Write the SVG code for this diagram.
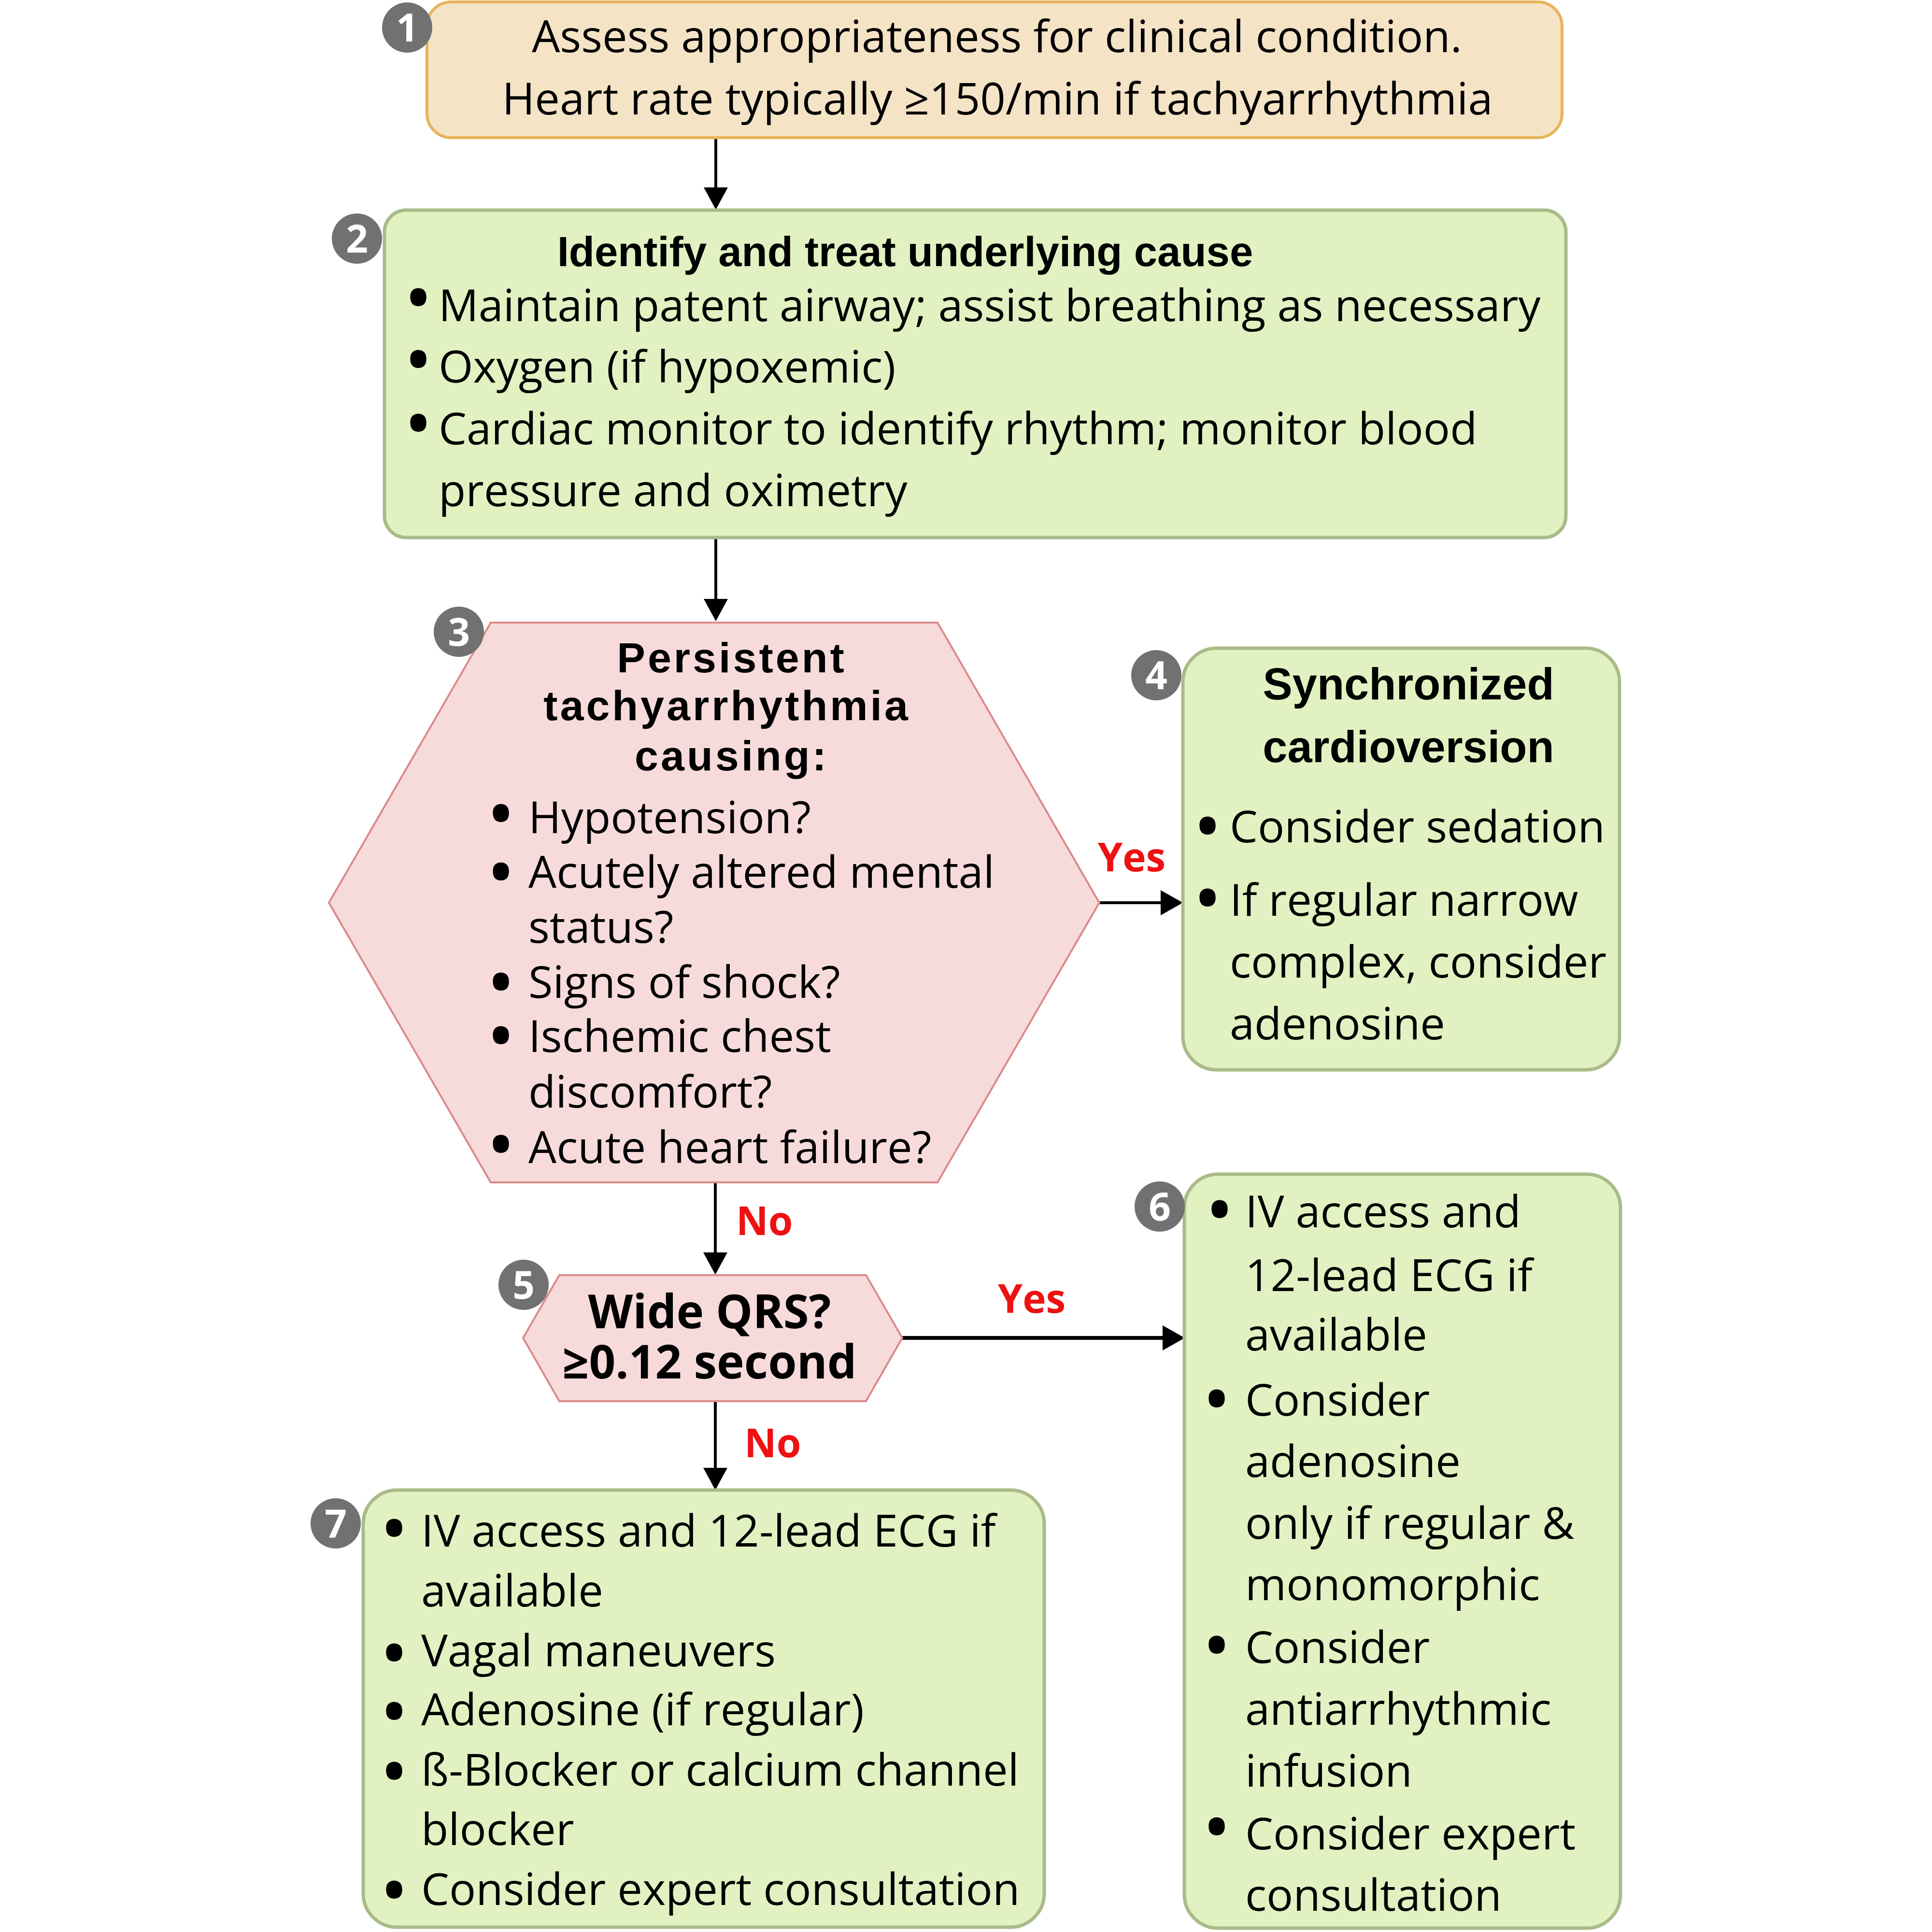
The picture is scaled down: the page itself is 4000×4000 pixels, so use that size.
<svg xmlns="http://www.w3.org/2000/svg" width="4000" height="4000" viewBox="0 0 4000 4000">
<defs>
<style>
.bg{fill:#ffffff}
.t{font-family:"Open Sans","DejaVu Sans",sans-serif;font-size:92px;fill:#000}
.bu{font-family:"Open Sans","DejaVu Sans",sans-serif;font-size:160px;fill:#000}
.tb{font-family:"Liberation Sans",Arial,sans-serif;font-weight:bold;fill:#000}
.ob{font-family:"Open Sans","DejaVu Sans",sans-serif;font-weight:bold;fill:#000}
.lab{font-family:"Open Sans","DejaVu Sans",sans-serif;font-weight:bold;font-size:82px;fill:#EE1111}
.badge{fill:#717171}
.bn{font-family:"Open Sans","DejaVu Sans",sans-serif;font-weight:bold;font-size:80px;fill:#fff;text-anchor:middle}
.beige{fill:#F5E3C6;stroke:#E6B45A;stroke-width:6}
.green{fill:#E2F1C1;stroke:#A9BB88;stroke-width:7}
.pink{fill:#F7DBDB;stroke:#DB8A8A;stroke-width:4}
.ln{stroke:#000;stroke-width:6;fill:none}
.hd{fill:#000}
</style>
</defs>
<rect class="bg" x="0" y="0" width="4000" height="4000"/>

<g id="connectors">
<line class="ln" x1="1482" y1="285" x2="1482" y2="395"/>
<polygon class="hd" points="1457,388 1507,388 1482,434"/>
<line class="ln" x1="1482" y1="1113" x2="1482" y2="1245"/>
<polygon class="hd" points="1457,1240 1507,1240 1482,1286"/>
<line class="ln" x1="2276" y1="1869" x2="2410" y2="1869"/>
<polygon class="hd" points="2403,1843 2403,1895 2449,1869"/>
<line class="ln" x1="1481" y1="2449" x2="1481" y2="2600"/>
<polygon class="hd" points="1456,2593 1506,2593 1481,2639"/>
<line class="ln" x1="1868" y1="2770" x2="2412" y2="2770" style="stroke-width:8"/>
<polygon class="hd" points="2407,2744 2407,2796 2453,2770"/>
<line class="ln" x1="1481" y1="2901" x2="1481" y2="3046"/>
<polygon class="hd" points="1456,3039 1506,3039 1481,3085"/>
<text class="lab" x="2273" y="1804">Yes</text>
<text class="lab" x="1524" y="2557">No</text>
<text class="lab" x="2066" y="2718">Yes</text>
<text class="lab" x="1541" y="3017">No</text>
</g>

<g id="node1">
<rect class="beige" x="884" y="4" width="2350" height="281" rx="50"/>
<text class="t" x="2064" y="108" text-anchor="middle">Assess appropriateness for clinical condition.</text>
<text class="t" x="2065" y="237" text-anchor="middle">Heart rate typically ≥150/min if tachyarrhythmia</text>
<circle class="badge" cx="843" cy="57" r="52"/>
<text class="bn" x="843" y="86">1</text>
</g>

<g id="node2">
<rect class="green" x="796" y="435" width="2446" height="678" rx="45"/>
<text class="tb" x="1874" y="551" text-anchor="middle" font-size="87">Identify and treat underlying cause</text>
<text class="bu" x="836" y="674">•</text>
<text class="t" x="908" y="665">Maintain patent airway; assist breathing as necessary</text>
<text class="bu" x="836" y="802">•</text>
<text class="t" x="908" y="792">Oxygen (if hypoxemic)</text>
<text class="bu" x="836" y="934">•</text>
<text class="t" x="908" y="920">Cardiac monitor to identify rhythm; monitor blood</text>
<text class="t" x="908" y="1048">pressure and oximetry</text>
<circle class="badge" cx="739" cy="494" r="52"/>
<text class="bn" x="739" y="523">2</text>
</g>

<g id="node3">
<polygon class="pink" points="1016,1289 1941,1289 2276,1869 1941,2448 1016,2448 681,1869"/>
<text class="tb" x="1515" y="1392" text-anchor="middle" font-size="88" letter-spacing="5">Persistent</text>
<text class="tb" x="1505" y="1491" text-anchor="middle" font-size="88" letter-spacing="5">tachyarrhythmia</text>
<text class="tb" x="1515" y="1595" text-anchor="middle" font-size="88" letter-spacing="5">causing:</text>
<text class="bu" x="1007" y="1742">•</text>
<text class="t" x="1094" y="1725">Hypotension?</text>
<text class="bu" x="1007" y="1863">•</text>
<text class="t" x="1094" y="1838">Acutely altered mental</text>
<text class="t" x="1094" y="1952">status?</text>
<text class="bu" x="1007" y="2091">•</text>
<text class="t" x="1094" y="2066">Signs of shock?</text>
<text class="bu" x="1007" y="2202">•</text>
<text class="t" x="1094" y="2178">Ischemic chest</text>
<text class="t" x="1094" y="2293">discomfort?</text>
<text class="bu" x="1007" y="2427">•</text>
<text class="t" x="1094" y="2408">Acute heart failure?</text>
<circle class="badge" cx="950" cy="1308" r="52"/>
<text class="bn" x="950" y="1337">3</text>
</g>

<g id="node4">
<rect class="green" x="2449" y="1342" width="904" height="873" rx="70"/>
<text class="tb" x="2916" y="1448" text-anchor="middle" font-size="92">Synchronized</text>
<text class="tb" x="2916" y="1578" text-anchor="middle" font-size="92">cardioversion</text>
<text class="bu" x="2470" y="1768">•</text>
<text class="t" x="2546" y="1744">Consider sedation</text>
<text class="bu" x="2470" y="1917">•</text>
<text class="t" x="2546" y="1896">If regular narrow</text>
<text class="t" x="2546" y="2024">complex, consider</text>
<text class="t" x="2546" y="2152">adenosine</text>
<circle class="badge" cx="2394" cy="1398" r="52"/>
<text class="bn" x="2394" y="1427">4</text>
</g>

<g id="node5">
<polygon class="pink" points="1158,2640 1793,2640 1868,2770 1793,2901 1158,2901 1083,2770"/>
<text class="ob" x="1469" y="2750" text-anchor="middle" font-size="96">Wide QRS?</text>
<text class="ob" x="1469" y="2854" text-anchor="middle" font-size="96">≥0.12 second</text>
<circle class="badge" cx="1084" cy="2660" r="52"/>
<text class="bn" x="1084" y="2689">5</text>
</g>

<g id="node6">
<rect class="green" x="2452" y="2431" width="903" height="1561" rx="70"/>
<text class="bu" x="2495" y="2562">•</text>
<text class="t" x="2578" y="2541">IV access and</text>
<text class="t" x="2578" y="2673">12-lead ECG if</text>
<text class="t" x="2578" y="2796">available</text>
<text class="bu" x="2489" y="2954">•</text>
<text class="t" x="2578" y="2931">Consider</text>
<text class="t" x="2578" y="3058">adenosine</text>
<text class="t" x="2578" y="3186">only if regular &amp;</text>
<text class="t" x="2578" y="3313">monomorphic</text>
<text class="bu" x="2489" y="3464">•</text>
<text class="t" x="2578" y="3443">Consider</text>
<text class="t" x="2578" y="3571">antiarrhythmic</text>
<text class="t" x="2578" y="3699">infusion</text>
<text class="bu" x="2489" y="3840">•</text>
<text class="t" x="2578" y="3829">Consider expert</text>
<text class="t" x="2578" y="3956">consultation</text>
<circle class="badge" cx="2401" cy="2498" r="52"/>
<text class="bn" x="2401" y="2527">6</text>
</g>

<g id="node7">
<rect class="green" x="752" y="3085" width="1410" height="905" rx="70"/>
<text class="bu" x="786" y="3222">•</text>
<text class="t" x="872" y="3202">IV access and 12-lead ECG if</text>
<text class="t" x="872" y="3326">available</text>
<text class="bu" x="786" y="3480">•</text>
<text class="t" x="872" y="3450">Vagal maneuvers</text>
<text class="bu" x="786" y="3601">•</text>
<text class="t" x="872" y="3572">Adenosine (if regular)</text>
<text class="bu" x="786" y="3725">•</text>
<text class="t" x="872" y="3697">ß-Blocker or calcium channel</text>
<text class="t" x="872" y="3820">blocker</text>
<text class="bu" x="786" y="3971">•</text>
<text class="t" x="872" y="3944">Consider expert consultation</text>
<circle class="badge" cx="695" cy="3154" r="52"/>
<text class="bn" x="695" y="3183">7</text>
</g>
</svg>
